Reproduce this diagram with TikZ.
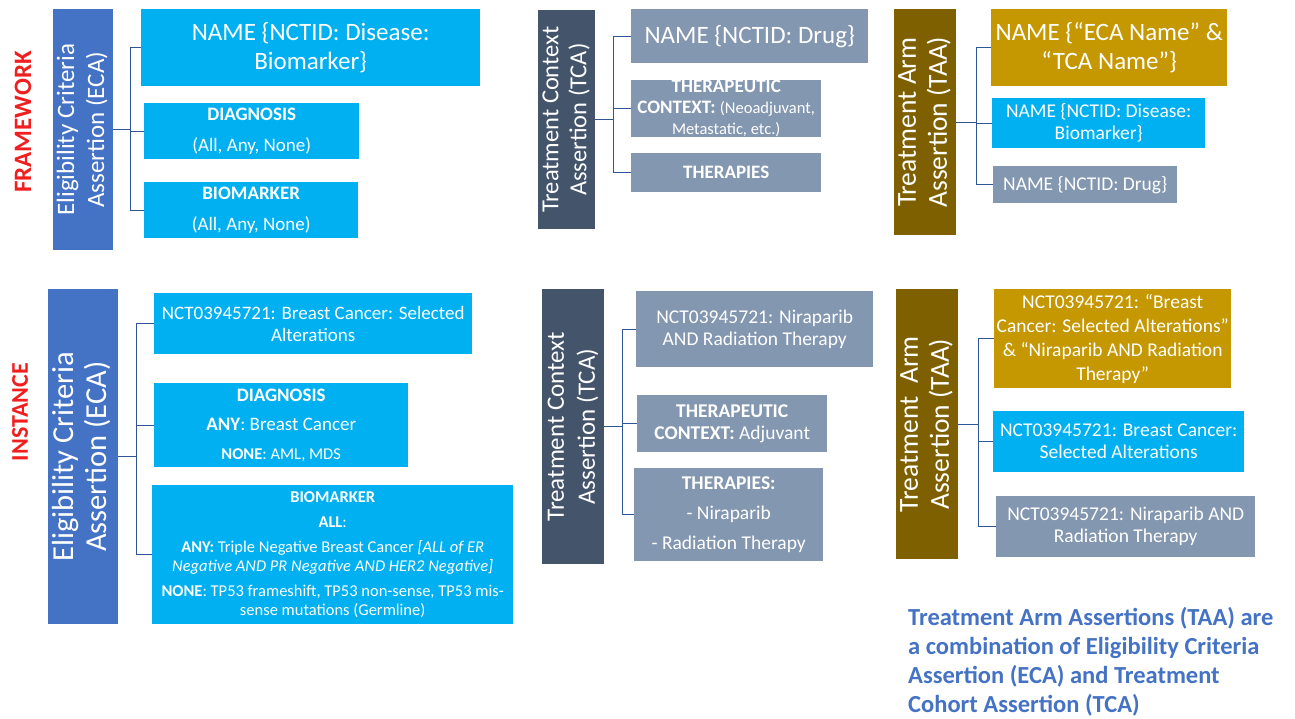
\documentclass[tikz,border=0pt]{standalone}
\usepackage{fontspec}
\setmainfont{Carlito}

\definecolor{ecabar}{HTML}{4472C4}
\definecolor{ecabox}{HTML}{00B0F0}
\definecolor{tcabar}{HTML}{44546A}
\definecolor{tcabox}{HTML}{8497B0}
\definecolor{taabar}{HTML}{7F6000}
\definecolor{taabox}{HTML}{C59700}
\definecolor{linkblue}{HTML}{2F5597}
\definecolor{sectionred}{HTML}{F01E1E}
\definecolor{noteblue}{HTML}{4472C4}

\newcommand{\fsz}[2]{\fontsize{#1}{#2}\selectfont}
\newcommand{\vtext}[1]{\rotatebox{90}{\begin{tabular}{@{}c@{}}#1\end{tabular}}}

\tikzstyle{bar}=[anchor=north west,inner sep=0pt,text=white]
\tikzstyle{box}=[anchor=north west,inner sep=0pt,text=white,align=center]
\tikzstyle{link}=[draw=linkblue,line width=1.3pt]
\tikzstyle{section}=[text=sectionred,font=\bfseries\fsz{25}{30},rotate=90]
\tikzstyle{note}=[anchor=north west,inner sep=0pt,align=left,
    text=noteblue,font=\bfseries\fsz{24.5}{29.2}]

\newcommand{\assertbar}[6][]{
    \node[bar,minimum width=#4pt,minimum height=#5pt,#1] at (#3) (#2) {\vtext{#6}};
}
\newcommand{\assertbox}[6][]{
    \node[box,minimum width=#4pt,minimum height=#5pt,#1] at (#3) (#2) {#6};
}
\newcommand{\bracket}[5]{
    \draw[link] (#1.east) -- ++(#2,0) coordinate (#1-fork);
    \draw[link] (#3.west) -| (#1-fork) |- (#5.west);
    \draw[link] (#4.west) -- (#4.west -| #1-fork);
}

\begin{document}
\begin{tikzpicture}[x=1pt,y=-1pt]
    \useasboundingbox (0,0) rectangle (1295,718);
    \node[section] at (23,122) (framework) {FRAMEWORK};
    \node[section,font=\bfseries\fsz{24}{30}] at (20,412) (instance) {INSTANCE};
    %
    \assertbar[fill=ecabar,font=\fsz{25}{30}]{ecaF}{53,9}{56}{241}{Eligibility Criteria\\Assertion (ECA)}
    \assertbox[fill=ecabox,font=\fsz{25}{29}]{ecaNameF}{141,9}{339}{77}{NAME \{NCTID: Disease:\\Biomarker\}}
    \assertbox[fill=ecabox,font=\fsz{19}{31}]{ecaDiagF}{144,103}{215}{56}{\textbf{DIAGNOSIS}\\(All, Any, None)}
    \assertbox[fill=ecabox,font=\fsz{19}{31}]{ecaBioF}{144,182}{214}{56}{\textbf{BIOMARKER}\\(All, Any, None)}
    \bracket{ecaF}{17}{ecaNameF}{ecaDiagF}{ecaBioF}
    %
    \assertbar[fill=tcabar,font=\fsz{24.5}{28}]{tcaF}{538,10}{57}{219}{Treatment Context\\Assertion (TCA)}
    \assertbox[fill=tcabox,font=\fsz{25}{29}]{tcaNameF}{631,9}{237}{54}{NAME \{NCTID: Drug\}}
    \assertbox[fill=tcabox,font=\fsz{19}{21}]{tcaCtxF}{631,80}{190}{57}{\textbf{THERAPEUTIC}\\\textbf{CONTEXT:} {\fsz{16.5}{21}(Neoadjuvant,}\\{\fsz{16.5}{21}Metastatic, etc.)}}
    \assertbox[fill=tcabox,font=\fsz{19}{23}]{tcaTherF}{631,153}{190}{39}{\textbf{THERAPIES}}
    \bracket{tcaF}{18}{tcaNameF}{tcaCtxF}{tcaTherF}
    %
    \assertbar[fill=taabar,font=\fsz{27.5}{31}]{taaF}{894,9}{58}{226}{Treatment Arm\\Assertion (TAA)}
    \assertbox[fill=taabox,font=\fsz{25}{29}]{taaNameF}{991,9}{236}{77}{NAME \{“ECA Name” \&\\“TCA Name”\}}
    \assertbox[fill=ecabox,font=\fsz{19.5}{22}]{taaEcaF}{992,98}{213}{50}{NAME \{NCTID: Disease:\\Biomarker\}}
    \assertbox[fill=tcabox,font=\fsz{19.5}{22}]{taaTcaF}{993,166}{184}{37}{NAME \{NCTID: Drug\}}
    \bracket{taaF}{20}{taaNameF}{taaEcaF}{taaTcaF}
    %
    \assertbar[fill=ecabar,font=\fsz{30.5}{33}]{ecaI}{48,289}{70}{335}{Eligibility Criteria\\Assertion (ECA)}
    \assertbox[fill=ecabox,font=\fsz{19}{22}]{ecaNameI}{154,293}{318}{61}{NCT03945721: Breast Cancer: Selected\\Alterations}
    \assertbox[fill=ecabox,font=\fsz{19}{29}]{ecaDiagI}{154,383}{254}{84}{\textbf{DIAGNOSIS}\\\textbf{ANY}: Breast Cancer\\{\fsz{16.5}{29}\textbf{NONE}: AML, MDS}}
    \assertbox[fill=ecabox,font=\fsz{16.5}{19}]{ecaBioI}{152,485}{361}{139}{\textbf{BIOMARKER}\\[6pt]\textbf{ALL}:\\[6pt]\textbf{ANY:} Triple Negative Breast Cancer \textit{[ALL of ER}\\\textit{Negative AND PR Negative AND HER2 Negative]}\\[6pt]\textbf{NONE}: TP53 frameshift, TP53 non-sense, TP53 mis-\\sense mutations (Germline)}
    \bracket{ecaI}{18}{ecaNameI}{ecaDiagI}{ecaBioI}
    %
    \assertbar[fill=tcabar,font=\fsz{25}{31}]{tcaI}{542,289}{57}{275}{Treatment Context\\Assertion (TCA)}
    \assertbox[fill=tcabox,font=\fsz{19.5}{22}]{tcaNameI}{636,291}{237}{76}{NCT03945721: Niraparib\\AND Radiation Therapy}
    \assertbox[fill=tcabox,font=\fsz{19.5}{22}]{tcaCtxI}{637,395}{190}{57}{\textbf{THERAPEUTIC}\\\textbf{CONTEXT:} Adjuvant}
    \assertbox[fill=tcabox,font=\fsz{19.5}{30}]{tcaTherI}{634,468}{189}{93}{\textbf{THERAPIES:}\\- Niraparib\\- Radiation Therapy}
    \bracket{tcaI}{18}{tcaNameI}{tcaCtxI}{tcaTherI}
    %
    \assertbar[fill=taabar,font=\fsz{27.5}{31}]{taaI}{896,289}{57}{270}{Treatment\ \ Arm\\Assertion (TAA)}
    \assertbox[fill=taabox,font=\fsz{19.5}{24}]{taaNameI}{994,289}{237}{99}{NCT03945721: “Breast\\Cancer: Selected Alterations”\\\& “Niraparib AND Radiation\\Therapy”}
    \assertbox[fill=ecabox,font=\fsz{19.5}{22}]{taaEcaI}{993,411}{251}{61}{NCT03945721: Breast Cancer:\\Selected Alterations}
    \assertbox[fill=tcabox,font=\fsz{19.5}{22}]{taaTcaI}{996,496}{259}{61}{NCT03945721: Niraparib AND\\Radiation Therapy}
    \bracket{taaI}{20}{taaNameI}{taaEcaI}{taaTcaI}
    %
    \node[note] at (908,607) (summary) {Treatment Arm Assertions (TAA) are\\a combination of Eligibility Criteria\\Assertion (ECA) and Treatment\\Cohort Assertion (TCA)};
\end{tikzpicture}
\end{document}
